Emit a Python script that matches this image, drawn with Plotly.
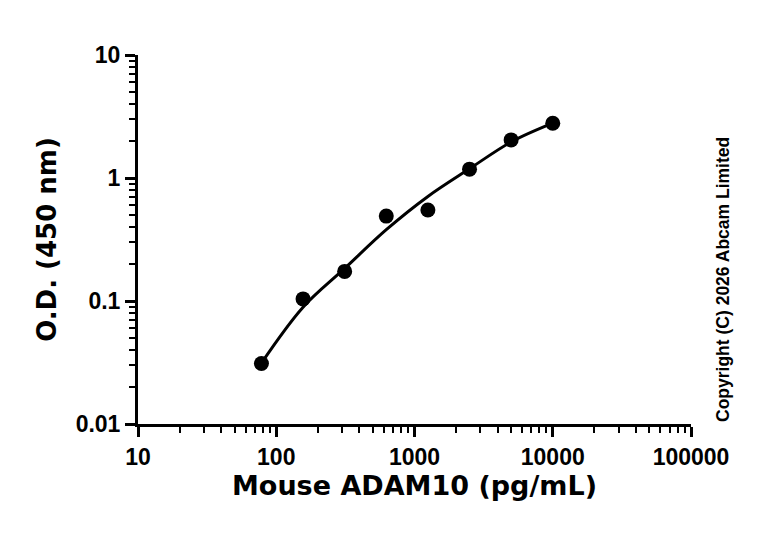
import plotly.graph_objects as go

# Data
conc = [78.125, 156.25, 312.5, 625, 1250, 2500, 5000, 10000]
od = [0.031, 0.104, 0.174, 0.49, 0.55, 1.18, 2.04, 2.79]

# Fitted curve
curve_x = [78.125, 156.25, 312.5, 625, 1250, 2500, 5000, 10000]
curve_y = [0.0313, 0.0891, 0.184, 0.380, 0.708, 1.189, 1.963, 2.79]

x_ticks = [10, 100, 1000, 10000, 100000]
x_ticklabels = ["10", "100", "1000", "10000", "100000"]
y_ticks = [0.01, 0.1, 1, 10]
y_ticklabels = ["0.01", "0.1", "1", "10"]

fig = go.Figure()
fig.add_trace(go.Scatter(x=curve_x, y=curve_y, mode="lines",
                         line=dict(color="black", width=3, shape="spline", smoothing=1.0),
                         showlegend=False, hoverinfo="skip"))
fig.add_trace(go.Scatter(x=conc, y=od, mode="markers",
                         marker=dict(color="black", size=15),
                         showlegend=False))

tickfont = dict(family="Liberation Sans", size=23, color="black", weight="bold")

fig.update_xaxes(type="log", range=[1, 5], tickvals=x_ticks, ticktext=x_ticklabels,
                 showline=True, linecolor="black", linewidth=3,
                 ticks="outside", ticklen=10, tickwidth=3, tickcolor="black",
                 minor=dict(ticks="outside", ticklen=6, tickwidth=2, tickcolor="black",
                            tickvals=[a * 10 ** e for e in range(1, 5) for a in range(2, 10)], showgrid=False),
                 showgrid=False, zeroline=False,
                 tickfont=tickfont,
                 title=dict(text="Mouse ADAM10 (pg/mL)",
                            font=dict(family="DejaVu Sans", size=27, color="black", weight="bold"),
                            standoff=6))
fig.update_yaxes(type="log", range=[-2, 1], tickvals=y_ticks, ticktext=y_ticklabels,
                 showline=True, linecolor="black", linewidth=3,
                 ticks="outside", ticklen=10, tickwidth=3, tickcolor="black",
                 minor=dict(ticks="outside", ticklen=6, tickwidth=2, tickcolor="black",
                            tickvals=[a * 10 ** e for e in range(-2, 1) for a in range(2, 10)], showgrid=False),
                 showgrid=False, zeroline=False,
                 tickfont=tickfont,
                 title=dict(text="O.D. (450 nm)",
                            font=dict(family="DejaVu Sans", size=26, color="black", weight="bold"),
                            standoff=12))

L, R, T, B = 130, 85, 47, 120
W, H = 768, 536
fig.add_annotation(text="Copyright (C) 2026 Abcam Limited",
                   x=(727 - L) / (W - L - R), y=(H - B - 272) / (H - T - B),
                   xref="paper", yref="paper", showarrow=False, textangle=-90,
                   font=dict(family="Liberation Sans", size=17.5, color="black", weight="bold"))

fig.update_layout(width=W, height=H, margin=dict(l=L, r=R, t=T, b=B),
                  plot_bgcolor="white", paper_bgcolor="white")
fig.write_html("out.html")
